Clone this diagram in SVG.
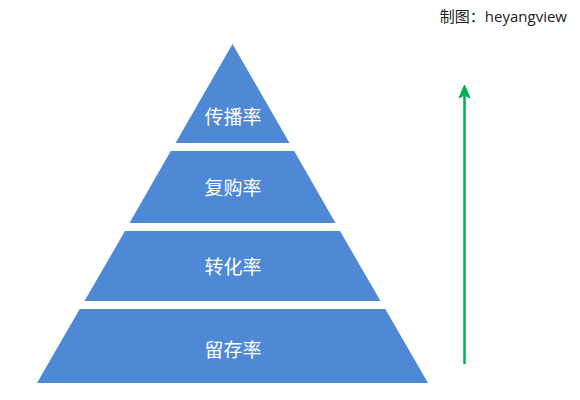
<svg xmlns="http://www.w3.org/2000/svg" width="580" height="400" viewBox="0 0 580 400">
<style>
.layer{fill:#4F88D5;}
.lbl{font-family:"Noto Sans CJK SC","Microsoft YaHei",sans-serif;font-size:19px;fill:#ffffff;text-anchor:middle;}
.title{font-family:"Open Sans","Noto Sans CJK SC",sans-serif;font-size:15px;fill:#222222;text-anchor:end;}
.arrow{stroke:#00B050;stroke-width:2.5;fill:none;}
.head{fill:#00B050;stroke:#00B050;stroke-width:1;stroke-linejoin:round;}
</style>
<rect width="580" height="400" fill="#ffffff"/>
<text class="title" x="567" y="22">制图：heyangview</text>
<g id="layer1">
<polygon class="layer" points="232.5,44 289.5,143 175.5,143"/>
<text class="lbl" x="233" y="124">传播率</text>
</g>
<g id="layer2">
<polygon class="layer" points="170.8,151 294.2,151 335.5,223 129.5,223"/>
<text class="lbl" x="233" y="195">复购率</text>
</g>
<g id="layer3">
<polygon class="layer" points="125,231 340,231 380.5,301 84.5,301"/>
<text class="lbl" x="233" y="274">转化率</text>
</g>
<g id="layer4">
<polygon class="layer" points="79.7,309 385.3,309 428,383 37,383"/>
<text class="lbl" x="233" y="357">留存率</text>
</g>
<g id="connectors">
<line class="arrow" x1="464.5" y1="364" x2="464.5" y2="95"/>
<path class="head" d="M464.5,85 L470,98 L464.5,95 L459,98 Z"/>
</g>
</svg>
